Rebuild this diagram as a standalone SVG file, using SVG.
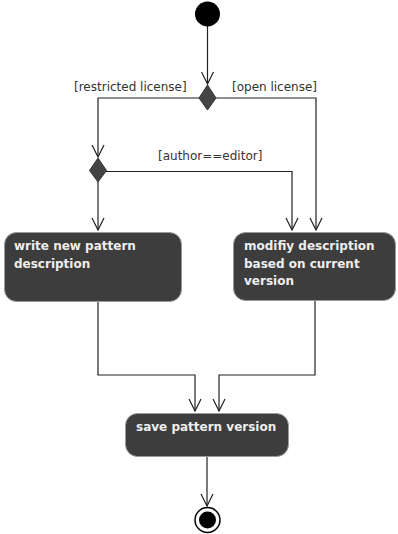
<svg xmlns="http://www.w3.org/2000/svg" width="398" height="534" viewBox="0 0 398 534">
  <style>
    .act { fill: #3d3d3d; stroke: #9a9a9a; stroke-width: 1; }
    .act-text { font-family: "DejaVu Sans", sans-serif; font-weight: bold; font-size: 12px; fill: #eeeeee; }
    .guard { font-family: "DejaVu Sans", sans-serif; font-size: 12px; fill: #333333; }
    .flow { fill: none; stroke: #222222; stroke-width: 1.2; }
    .decision { fill: #444444; stroke: #333333; stroke-width: 1; }
  </style>
  <defs>
    <!-- open "V" arrowhead, drawn along +x so orient="auto" follows the line -->
    <marker id="open-arrow" markerWidth="14" markerHeight="14" refX="13" refY="7" orient="auto" markerUnits="userSpaceOnUse" viewBox="0 0 14 14">
      <path d="M1,1 L13,7 L1,13" fill="none" stroke="#222222" stroke-width="1.2"/>
    </marker>
  </defs>

  <!-- control flows -->
  <g id="connectors">
    <path class="flow" d="M207.5,26 V84" marker-end="url(#open-arrow)"/>
    <path class="flow" d="M199,98 H98 V157" marker-end="url(#open-arrow)"/>
    <path class="flow" d="M216,98 H316 V230" marker-end="url(#open-arrow)"/>
    <path class="flow" d="M106,171.5 H292 V230" marker-end="url(#open-arrow)"/>
    <path class="flow" d="M98,182 V230" marker-end="url(#open-arrow)"/>
    <path class="flow" d="M98,302 V375 H195 V411" marker-end="url(#open-arrow)"/>
    <path class="flow" d="M315,301 V375 H219 V411" marker-end="url(#open-arrow)"/>
    <path class="flow" d="M207,457 V506" marker-end="url(#open-arrow)"/>
    <text class="guard" x="74" y="91">[restricted license]</text>
    <text class="guard" x="232" y="91">[open license]</text>
    <text class="guard" x="158" y="160">[author==editor]</text>
  </g>

  <g id="start">
    <circle cx="207.5" cy="14" r="12.5" fill="#000000"/>
  </g>

  <g id="license-decision">
    <polygon class="decision" points="207.5,85 216,98 207.5,110 199,98"/>
  </g>

  <g id="author-decision">
    <polygon class="decision" points="98,158 106.5,170.5 98,182 89.5,170.5"/>
  </g>

  <g id="write-description">
    <rect class="act" x="4.5" y="232.5" width="177" height="69" rx="12" ry="12"/>
    <text class="act-text" x="14" y="250">write new pattern</text>
    <text class="act-text" x="14" y="268">description</text>
  </g>

  <g id="modify-description">
    <rect class="act" x="233.5" y="232.5" width="162" height="68" rx="12" ry="12"/>
    <text class="act-text" x="244" y="250">modifiy description</text>
    <text class="act-text" x="244" y="268">based on current</text>
    <text class="act-text" x="244" y="285">version</text>
  </g>

  <g id="save-version">
    <rect class="act" x="125.5" y="413.5" width="163" height="43" rx="12" ry="12"/>
    <text class="act-text" x="136" y="431">save pattern version</text>
  </g>

  <g id="end">
    <circle cx="207.5" cy="520" r="12.5" fill="#ffffff" stroke="#000000" stroke-width="1.5"/>
    <circle cx="207.5" cy="520" r="8.5" fill="#000000"/>
  </g>
</svg>
